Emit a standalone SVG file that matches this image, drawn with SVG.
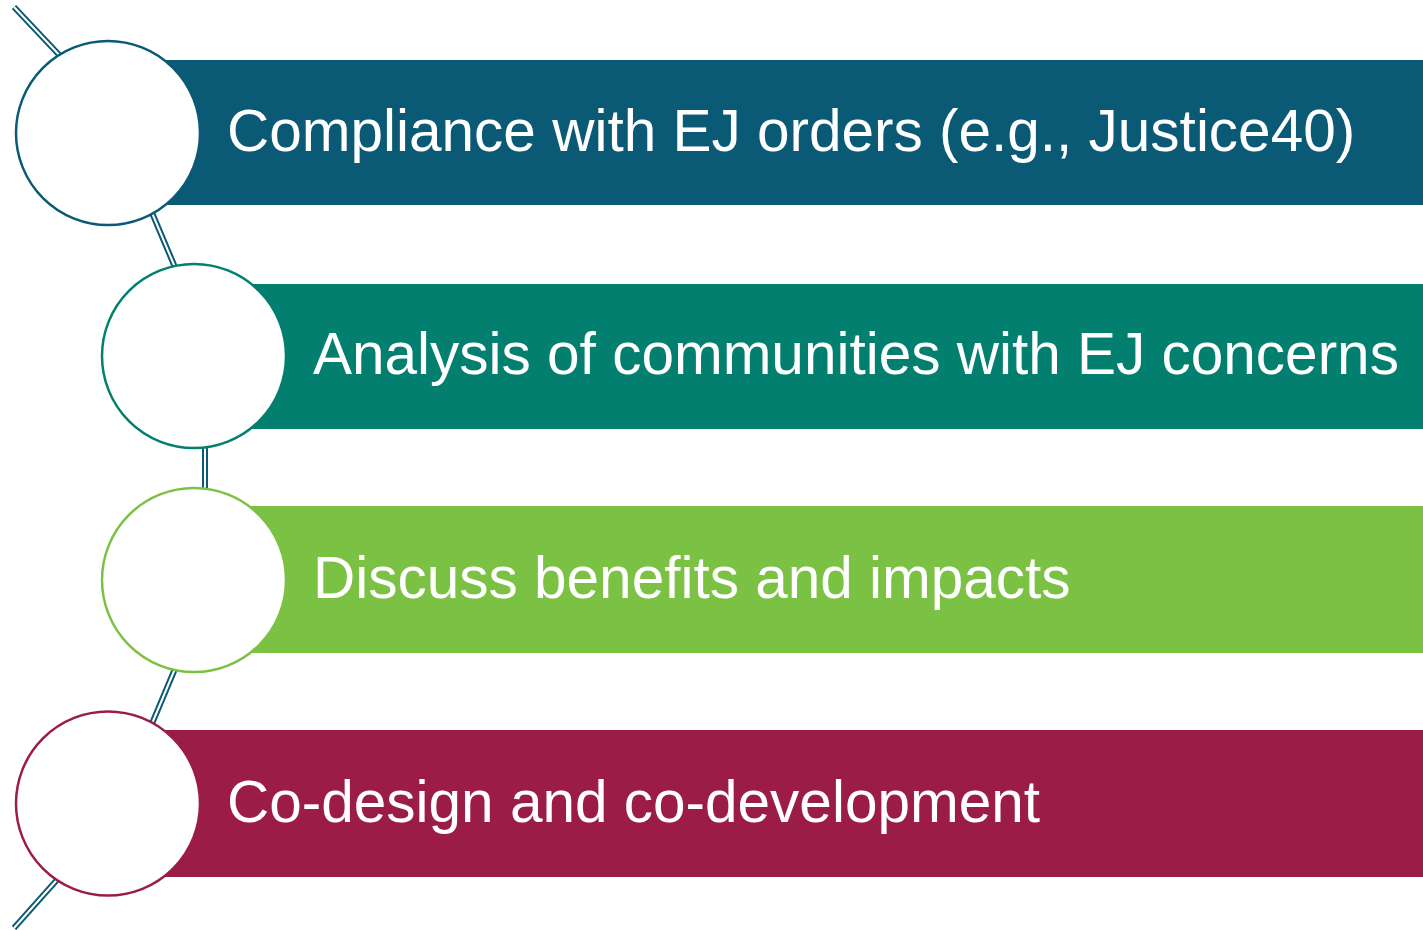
<svg xmlns="http://www.w3.org/2000/svg" width="1423" height="930" viewBox="0 0 1423 930">
<style>
.lo{fill:none;stroke:#0a5a73;stroke-width:6;stroke-linecap:butt}
.li{fill:none;stroke:#ffffff;stroke-width:2}
.c{fill:#ffffff;stroke-width:2.5}
.t{font-family:"Liberation Sans",Arial,sans-serif;font-size:58.5px;fill:#ffffff}
</style>
<rect width="1423" height="930" fill="#ffffff"/>
<g id="connectors">
<path class="lo" d="M14,7 L64,60 M150,208 L177,272 M205,444 L205,492 M177,664 L151,726 M64,872 L14,928"/>
<path class="li" d="M14,7 L64,60 M150,208 L177,272 M205,444 L205,492 M177,664 L151,726 M64,872 L14,928"/>
</g>
<g id="node1">
<rect x="108" y="60" width="1315" height="145" fill="#0a5a75"/>
<circle class="c" cx="108" cy="133" r="92" stroke="#0a5a75"/>
<text class="t" x="227" y="151">Compliance with EJ orders (e.g., Justice40)</text>
</g>
<g id="node2">
<rect x="194" y="284" width="1229" height="145" fill="#027f6f"/>
<circle class="c" cx="194" cy="356" r="92" stroke="#027f6f"/>
<text class="t" x="313" y="374">Analysis of communities with EJ concerns</text>
</g>
<g id="node3">
<rect x="194" y="506" width="1229" height="147" fill="#7bc143"/>
<circle class="c" cx="194" cy="580" r="92" stroke="#7bc143"/>
<text class="t" x="313" y="598">Discuss benefits and impacts</text>
</g>
<g id="node4">
<rect x="108" y="730" width="1315" height="147" fill="#9b1c47"/>
<circle class="c" cx="108" cy="803.5" r="92" stroke="#9b1c47"/>
<text class="t" x="227" y="822">Co-design and co-development</text>
</g>
</svg>
